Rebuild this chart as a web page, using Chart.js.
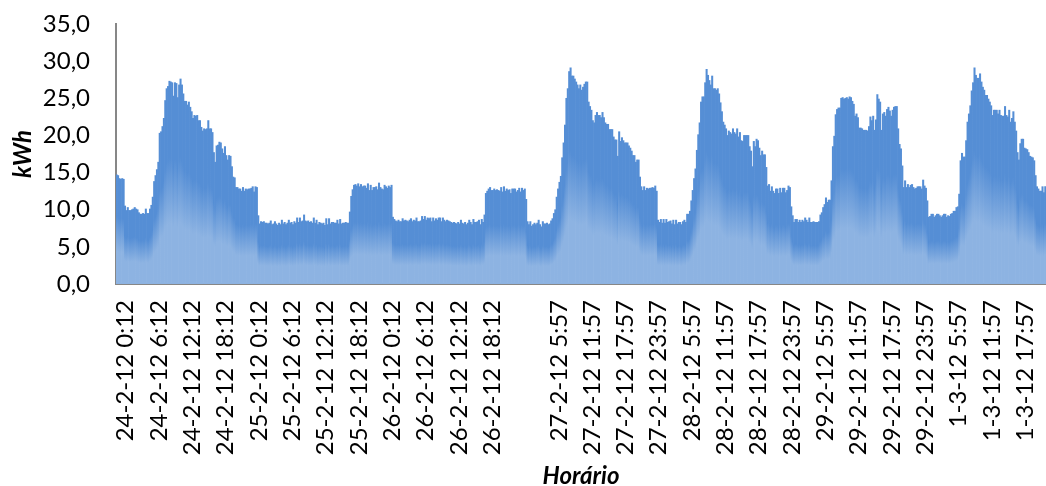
<!DOCTYPE html>
<html>
<head>
<meta charset="utf-8">
<script src="https://cdn.jsdelivr.net/npm/chart.js@4/dist/chart.umd.min.js"></script>
<style>
  html, body { margin: 0; padding: 0; background: #ffffff; }
  #wrap { width: 1046px; height: 486px; }
</style>
</head>
<body>
<div id="wrap"><canvas id="chart" width="1046" height="486"></canvas></div>
<script>
// Energy use in kWh, one value per 15-minute reading, grouped in blocks of 96 readings
const kwh24Feb = [
  14.7, 14.6, 14.2, 14.1, 14.2, 14.1, 10.5, 9.9, 10.3, 9.9,
  9.9, 10.0, 10.1, 10.3, 10.1, 10.0, 9.6, 9.4, 9.4, 9.5,
  9.4, 10.1, 9.5, 9.5, 10.1, 10.6, 11.7, 13.8, 14.6, 15.4,
  16.4, 20.3, 20.5, 21.2, 22.3, 24.7, 26.3, 26.6, 27.3, 27.2,
  27.1, 25.3, 27.1, 27.0, 25.1, 26.8, 27.6, 26.8, 25.6, 24.6,
  24.6, 24.1, 24.5, 23.8, 23.2, 22.3, 22.7, 22.6, 22.7, 22.0,
  22.0, 21.1, 20.6, 20.9, 20.8, 20.9, 22.0, 20.9, 20.9, 20.4,
  17.7, 16.4, 18.6, 18.7, 19.1, 19.0, 18.2, 17.6, 18.5, 17.3,
  16.7, 17.3, 17.2, 15.8, 14.4, 14.3, 13.0, 13.0, 12.8, 12.8,
  12.5, 13.0, 12.5, 12.8, 12.7, 12.8
];
const kwh25Feb = [
  12.8, 12.9, 13.1, 12.4, 13.1, 13.0, 9.2, 8.1, 8.4, 8.3,
  8.4, 8.2, 8.2, 8.1, 8.2, 8.5, 8.0, 8.1, 8.4, 8.1,
  7.9, 8.2, 8.0, 8.6, 8.1, 8.3, 8.0, 8.2, 8.6, 8.2,
  8.3, 8.0, 8.4, 8.2, 8.9, 8.3, 8.9, 8.4, 8.5, 9.3,
  8.5, 8.4, 8.5, 8.3, 8.4, 8.2, 8.9, 8.2, 8.6, 8.0,
  8.3, 8.2, 8.1, 8.2, 7.9, 8.8, 8.0, 8.8, 8.1, 8.3,
  8.3, 8.2, 8.2, 8.6, 8.1, 8.7, 8.1, 8.2, 8.2, 8.3,
  8.2, 8.2, 9.7, 11.8, 12.7, 13.3, 13.4, 13.2, 13.5, 13.1,
  13.4, 13.1, 13.2, 13.2, 12.9, 13.5, 12.6, 13.3, 12.6, 13.0,
  13.0, 13.1, 12.7, 13.6, 13.0, 12.8
];
const kwh26Feb = [
  12.7, 13.3, 13.1, 12.9, 13.2, 13.0, 13.3, 9.0, 8.7, 8.5,
  8.4, 8.6, 8.4, 8.4, 8.8, 8.5, 8.6, 8.5, 8.4, 8.6,
  8.8, 8.4, 8.6, 8.5, 8.9, 8.4, 8.4, 8.5, 9.1, 8.7,
  9.1, 8.6, 8.9, 8.8, 8.9, 8.4, 8.9, 8.5, 8.8, 8.6,
  8.9, 8.9, 8.4, 8.9, 8.6, 8.4, 8.6, 8.5, 8.4, 8.3,
  8.2, 8.3, 8.2, 8.1, 8.3, 8.1, 8.6, 8.2, 8.1, 8.3,
  8.0, 8.2, 8.6, 8.3, 8.0, 8.7, 8.3, 8.3, 8.4, 8.6,
  8.0, 8.7, 8.3, 9.3, 12.2, 12.5, 12.8, 13.0, 12.6, 12.6,
  12.8, 12.6, 12.7, 12.6, 12.5, 13.0, 12.4, 13.1, 12.5, 12.8,
  12.6, 12.7, 12.2, 12.8, 12.8, 12.8
];
const kwh27Feb = [
  12.4, 12.6, 12.9, 12.4, 12.9, 12.6, 12.8, 11.4, 8.4, 8.0,
  8.4, 7.8, 8.0, 8.2, 8.0, 8.2, 8.6, 8.0, 7.7, 8.4,
  8.1, 8.1, 8.2, 8.0, 8.1, 8.5, 8.8, 9.5, 10.0, 11.7,
  12.8, 13.7, 14.5, 17.0, 19.0, 21.4, 25.0, 26.3, 28.6, 29.1,
  28.0, 28.0, 27.6, 27.2, 26.8, 26.3, 26.8, 26.1, 26.5, 26.9,
  27.2, 27.2, 24.5, 23.9, 23.4, 22.0, 21.7, 22.7, 23.1, 22.7,
  22.7, 22.4, 23.1, 22.4, 21.7, 21.5, 21.5, 20.8, 20.8, 20.8,
  19.8, 19.4, 19.4, 17.2, 20.5, 19.2, 19.7, 19.3, 19.0, 19.0,
  19.0, 18.6, 18.3, 17.9, 17.3, 17.3, 16.4, 16.7, 16.7, 14.4,
  13.1, 12.6, 13.1, 12.6, 12.9, 12.8
];
const kwh28Feb = [
  12.9, 12.9, 13.0, 12.9, 13.2, 12.5, 8.6, 8.3, 8.7, 8.2,
  8.7, 8.2, 8.7, 8.3, 8.4, 8.5, 8.1, 8.6, 8.0, 8.6,
  8.1, 8.3, 8.3, 8.0, 8.4, 8.6, 8.3, 9.4, 9.4, 9.8,
  11.2, 12.6, 14.2, 15.5, 18.0, 20.1, 21.7, 24.5, 25.2, 25.2,
  27.1, 28.9, 28.1, 27.4, 26.8, 28.0, 26.3, 26.3, 26.1, 26.3,
  25.6, 24.4, 23.2, 21.8, 21.4, 20.9, 20.0, 20.6, 20.4, 20.2,
  20.9, 20.4, 20.2, 20.9, 19.8, 20.4, 19.3, 19.2, 20.0, 20.0,
  20.0, 20.0, 18.5, 17.9, 15.8, 19.2, 18.5, 19.5, 19.3, 18.3,
  17.3, 17.9, 17.4, 17.4, 15.7, 13.2, 13.4, 12.5, 13.1, 12.5,
  12.2, 12.8, 12.8, 12.2, 12.9, 12.3
];
const kwh29Feb = [
  12.9, 12.9, 12.3, 12.6, 13.2, 13.0, 10.4, 9.2, 8.3, 8.7,
  8.7, 8.3, 8.6, 8.3, 8.6, 8.4, 8.9, 8.6, 8.3, 8.9,
  8.3, 8.3, 8.4, 8.3, 8.3, 8.3, 8.4, 9.3, 9.6, 10.3,
  10.7, 11.6, 11.0, 11.3, 11.3, 13.9, 18.5, 19.9, 22.8, 23.5,
  23.7, 23.7, 25.0, 25.1, 24.9, 25.0, 25.1, 24.9, 25.2, 25.1,
  24.6, 24.2, 22.6, 22.9, 22.4, 21.0, 21.0, 20.9, 20.7, 20.7,
  20.7, 20.6, 21.2, 22.5, 22.0, 22.6, 20.7, 22.1, 25.5, 24.9,
  24.5, 20.7, 22.9, 23.1, 22.6, 23.5, 23.8, 23.3, 22.6, 23.4,
  23.8, 23.9, 23.9, 20.9, 18.8, 18.2, 15.9, 13.0, 13.9, 13.0,
  13.4, 13.0, 13.3, 13.4, 13.0, 12.8
];
const kwh01Mar = [
  12.9, 13.1, 13.1, 13.1, 12.8, 14.0, 13.2, 12.9, 11.2, 9.0,
  9.1, 9.4, 9.4, 9.0, 9.2, 9.4, 9.4, 9.2, 9.0, 9.2,
  9.4, 9.4, 9.0, 9.2, 9.1, 9.4, 9.5, 9.8, 9.8, 10.3,
  10.4, 12.1, 16.6, 17.6, 17.1, 17.1, 19.3, 21.8, 22.9, 24.0,
  26.0, 27.1, 29.1, 28.1, 27.7, 27.7, 28.3, 27.2, 26.5, 26.1,
  25.4, 25.4, 24.9, 24.5, 24.0, 22.7, 23.4, 23.4, 23.4, 22.9,
  23.4, 22.7, 22.6, 22.6, 23.9, 22.7, 22.5, 23.4, 21.8, 22.3,
  23.2, 21.8, 20.6, 17.7, 16.7, 18.9, 19.5, 19.5, 18.3, 18.2,
  18.1, 17.7, 17.2, 17.1, 17.0, 16.6, 14.6, 13.1, 12.8, 12.5,
  12.5, 13.1, 12.3, 13.1
];

// Axis labels shown every 24 readings (6 hours)
const tickLabels = [
  '24-2-12 0:12', '24-2-12 6:12', '24-2-12 12:12', '24-2-12 18:12',
  '25-2-12 0:12', '25-2-12 6:12', '25-2-12 12:12', '25-2-12 18:12',
  '26-2-12 0:12', '26-2-12 6:12', '26-2-12 12:12', '26-2-12 18:12',
  '',
  '27-2-12 5:57', '27-2-12 11:57', '27-2-12 17:57', '27-2-12 23:57',
  '28-2-12 5:57', '28-2-12 11:57', '28-2-12 17:57', '28-2-12 23:57',
  '29-2-12 5:57', '29-2-12 11:57', '29-2-12 17:57', '29-2-12 23:57',
  '1-3-12 5:57', '1-3-12 11:57', '1-3-12 17:57'
];
const labelStep = 24;
const yTicks = [0, 5, 10, 15, 20, 25, 30, 35];

const values = [].concat(kwh24Feb, kwh25Feb, kwh26Feb, kwh27Feb, kwh28Feb, kwh29Feb, kwh01Mar);
const categories = values.map((_, i) => (i % labelStep === 0 ? (tickLabels[i / labelStep] || '') : ''));

const LIGHT = '#8db3e2';
const DARK = '#558ed5';
const FONT = 'Lato, "Open Sans", sans-serif';

// Each bar fades from light blue at its base to darker blue towards its top
function barGradient(ctx) {
  const chart = ctx.chart;
  if (!chart.chartArea || ctx.raw == null) return DARK;
  const y = chart.scales.y;
  const base = y.getPixelForValue(0);
  const top = y.getPixelForValue(ctx.raw);
  if (Math.abs(base - top) < 1) return LIGHT;
  const g = chart.ctx.createLinearGradient(0, base, 0, top);
  g.addColorStop(0, LIGHT);
  g.addColorStop(0.3, LIGHT);
  g.addColorStop(0.62, DARK);
  g.addColorStop(1, DARK);
  return g;
}

new Chart(document.getElementById('chart'), {
  type: 'bar',
  data: {
    labels: categories,
    datasets: [{
      data: values,
      backgroundColor: barGradient,
      borderWidth: 0,
      barPercentage: 1,
      categoryPercentage: 1
    }]
  },
  options: {
    responsive: false,
    animation: false,
    devicePixelRatio: 1,
    layout: { padding: { top: 24, right: 0, bottom: 0, left: 0 } },
    plugins: { legend: { display: false }, tooltip: { enabled: false } },
    scales: {
      x: {
        grid: { display: false, drawTicks: false },
        border: { display: true, color: '#878787', width: 2 },
        ticks: {
          autoSkip: false,
          minRotation: 90,
          maxRotation: 90,
          padding: 16,
          labelOffset: 9,
          color: '#000000',
          font: { family: FONT, size: 24 },
          callback: (v, i) => categories[i]
        },
        title: {
          display: true,
          text: 'Horário',
          color: '#000000',
          font: { family: FONT, size: 24, weight: 'bold', style: 'italic', lineHeight: 0.8 },
          padding: { top: 0, bottom: 0 }
        },
        afterFit: s => {
          s.height = 202;
          s.paddingLeft = 0;
          s.paddingRight = 0;
        }
      },
      y: {
        min: 0,
        max: 35,
        grid: { display: false, drawTicks: false },
        border: { display: true, color: '#878787', width: 2 },
        afterBuildTicks: s => { s.ticks = yTicks.map(v => ({ value: v })); },
        ticks: {
          padding: 26,
          color: '#000000',
          font: { family: FONT, size: 24 },
          callback: v => v.toFixed(1).replace('.', ',')
        },
        title: {
          display: true,
          text: 'kWh',
          color: '#000000',
          font: { family: FONT, size: 24, weight: 'bold', style: 'italic', lineHeight: 1.2 },
          padding: { top: 9, bottom: 0 }
        },
        afterFit: s => {
          s.width = 116;
          s.paddingTop = 0;
          s.paddingBottom = 0;
        }
      }
    }
  }
});
</script>
</body>
</html>
